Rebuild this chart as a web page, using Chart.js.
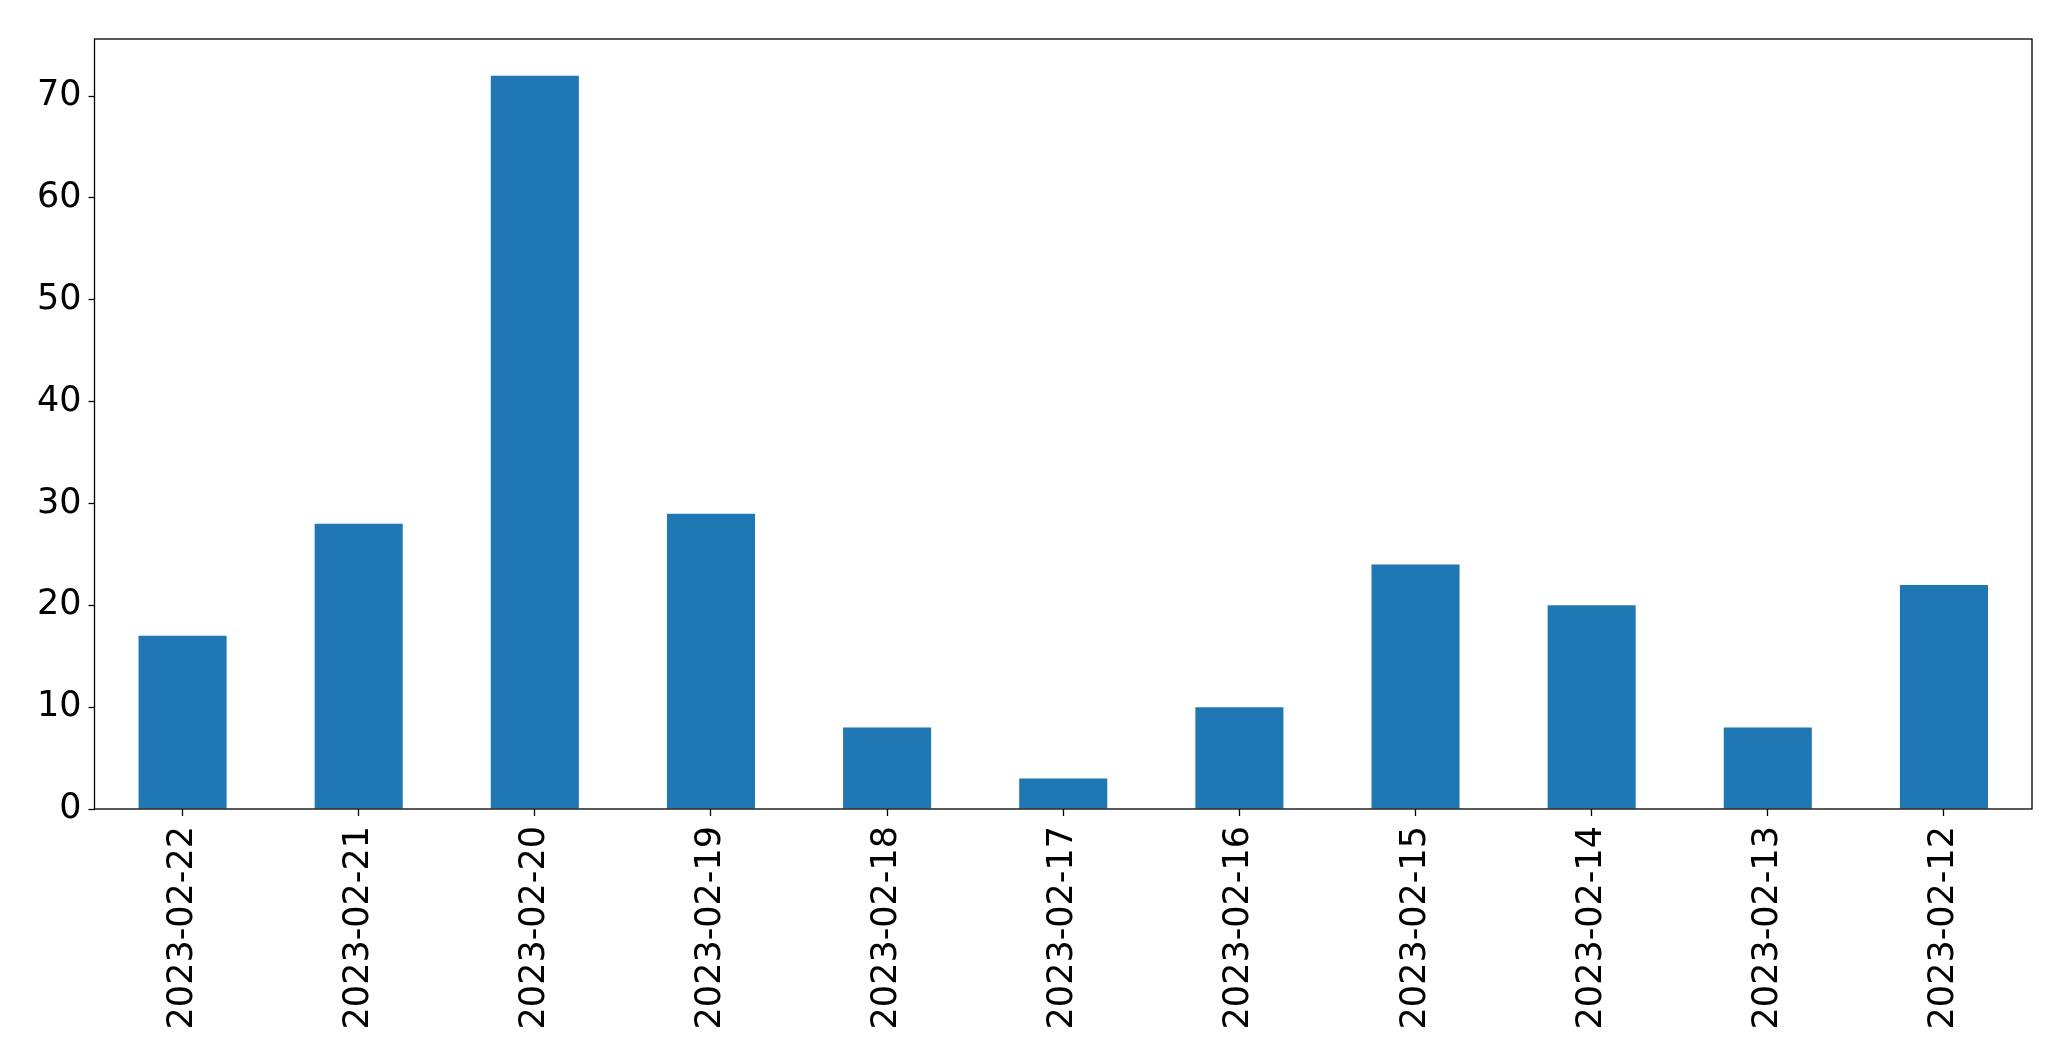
<!DOCTYPE html>
<html>
<head>
<meta charset="utf-8">
<script src="https://cdn.jsdelivr.net/npm/chart.js@4/dist/chart.umd.min.js"></script>
<style>
  html, body { margin: 0; padding: 0; background: #ffffff; }
  #wrap { width: 2071px; height: 1061px; }
</style>
</head>
<body>
<div id="wrap"><canvas id="c" width="2071" height="1061"></canvas></div>
<script>
const categories = ["2023-02-22","2023-02-21","2023-02-20","2023-02-19","2023-02-18","2023-02-17","2023-02-16","2023-02-15","2023-02-14","2023-02-13","2023-02-12"];
const counts = [17, 28, 72, 29, 8, 3, 10, 24, 20, 8, 22];
const yTicks = [0, 10, 20, 30, 40, 50, 60, 70];
const yMax = 75.6;

const frame = {
  id: 'frame',
  afterDraw(chart) {
    const a = chart.chartArea, ctx = chart.ctx;
    ctx.save();
    ctx.strokeStyle = '#000';
    ctx.lineWidth = 1.3;
    ctx.strokeRect(a.left, a.top, a.right - a.left, a.bottom - a.top);
    ctx.restore();
  }
};

new Chart(document.getElementById('c'), {
  type: 'bar',
  data: {
    labels: categories,
    datasets: [{
      data: counts,
      backgroundColor: '#1f77b4',
      borderWidth: 0,
      barPercentage: 0.5,
      categoryPercentage: 1.0
    }]
  },
  options: {
    responsive: false,
    animation: false,
    layout: { padding: { left: 0, top: 39, right: 39, bottom: 0 } },
    plugins: { legend: { display: false }, tooltip: { enabled: false } },
    scales: {
      x: {
        grid: { display: true, offset: false, drawOnChartArea: false, tickLength: 7, tickColor: '#000', tickWidth: 1.3 },
        border: { display: false },
        ticks: {
          color: '#000',
          font: { family: 'DejaVu Sans', size: 35 },
          minRotation: 90, maxRotation: 90,
          padding: 10,
          autoSkip: false
        },
        afterFit(s) { s.height = 1061 - 809; }
      },
      y: {
        min: 0, max: yMax,
        grid: { display: true, drawOnChartArea: false, tickLength: 6, tickColor: '#000', tickWidth: 1.3 },
        border: { display: false },
        ticks: {
          color: '#000',
          font: { family: 'DejaVu Sans', size: 35 },
          padding: 7
        },
        afterBuildTicks(s) { s.ticks = yTicks.map(v => ({ value: v })); },
        afterFit(s) { s.width = 94.5; }
      }
    }
  },
  plugins: [frame]
});
</script>
</body>
</html>
